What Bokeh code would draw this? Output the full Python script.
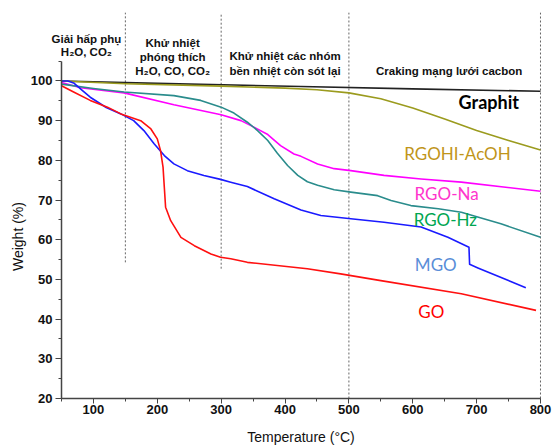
import math
from bokeh.plotting import figure
from bokeh.models import Range1d, FixedTicker, Label
from bokeh.core.properties import value
from bokeh.embed import file_html
from bokeh.resources import INLINE

# ---------------- data ----------------
graphit_t = [50, 200, 425, 600, 800]
graphit_w = [100.0, 99.4, 98.6, 98.0, 97.4]

rgohi_t = [50, 150, 300, 400, 450, 500, 550, 600, 650, 700, 750, 800]
rgohi_w = [100.0, 99.3, 98.7, 98.2, 97.8, 97.0, 95.5, 93.2, 90.4, 87.5, 85.0, 82.6]

rgona_t = [50, 80, 148, 226, 300, 331, 352, 373, 393, 414, 425, 451, 477, 503, 555, 613, 676, 800]
rgona_w = [99.6, 98.3, 97.0, 94.0, 91.5, 90.0, 88.3, 86.5, 83.7, 81.6, 81.0, 79.1, 77.9, 77.4, 76.2,
           75.3, 74.5, 72.2]

rgohz_t = [50, 100, 148, 226, 268, 300, 320, 341, 357, 373, 388, 404, 420, 435, 451, 477, 503, 545,
           566, 597, 640, 676, 738, 800]
rgohz_w = [99.2, 98.1, 97.2, 96.3, 95.1, 93.4, 91.9, 89.6, 87.5, 85.0, 81.8, 78.7, 76.2, 74.6, 73.7,
           72.6, 72.0, 71.1, 69.9, 68.6, 67.8, 66.9, 64.0, 60.6]

mgo_t = [50, 60, 69, 82, 95, 120, 143, 163, 179, 195, 211, 226, 247, 273, 299, 315, 341, 383, 425,
         456, 503, 555, 613, 655, 688, 689, 702, 777]
mgo_w = [100.0, 100.0, 99.5, 97.7, 95.9, 93.3, 91.7, 90.0, 87.5, 84.2, 81.2, 79.1, 77.4, 76.2, 75.2,
         74.5, 73.4, 70.3, 67.5, 66.1, 65.3, 64.4, 63.2, 60.6, 58.1, 53.8, 52.9, 47.9]

go_t = [50, 69, 95, 122, 143, 174, 190, 200, 205, 209, 211, 213, 221, 237, 258, 284, 299, 315, 341,
        435, 487, 550, 676, 793]
go_w = [98.8, 97.2, 95.1, 93.4, 91.7, 90.0, 87.9, 85.4, 82.5, 78.3, 73.2, 68.2, 64.8, 60.6, 58.5,
        56.4, 55.6, 55.2, 54.3, 52.7, 51.4, 49.7, 46.4, 42.2]

series_names = ["Graphit", "RGOHI-AcOH", "RGO-Na", "RGO-Hz", "MGO", "GO"]

# stage boundaries (°C) and the stage descriptions
stage_bounds = [150, 300, 500, 800]
stage_lines = [["Giải hấp phụ", "H₂O, CO₂"],
               ["Khử nhiệt", "phóng thích", "H₂O, CO, CO₂"],
               ["Khử nhiệt các nhóm", "bền nhiệt còn sót lại"],
               ["Craking mạng lưới cacbon"]]

x_ticks = [100, 200, 300, 400, 500, 600, 700, 800]
y_ticks = [20, 30, 40, 50, 60, 70, 80, 90, 100]
x_title = "Temperature (°C)"
y_title = "Weight (%)"

# ---------------- layout / style ----------------
curve_colors = ["#222222", "#9B9B1E", "#FF00FF", "#2A8C8C", "#1A1AFF", "#FF1010"]
label_colors = ["#000000", "#C0951A", "#FF33CC", "#00A651", "#5A8ED8", "#FF0000"]
label_pos = [(719, 94.6), (670, 81.6), (653, 71.6), (651, 65.1), (636, 53.8), (629, 42.0)]

stage_x = [89, 224, 400, 657]
stage_y = [[110.6, 107.2], [109.5, 106.0, 102.4], [106.4, 102.6], [102.6]]
bound_bottom = [54.3, 52.7, 20, 20]
bound_top = 117.2

# the frame fills the page; both axes are drawn at fixed data positions inside it
p = figure(width=552, height=448, output_backend="svg", toolbar_location=None,
           x_range=Range1d(-45.5, 818.8), y_range=Range1d(7.4, 118),
           min_border_left=0, min_border_right=0, min_border_top=9, min_border_bottom=0)
p.outline_line_color = None
p.grid.grid_line_color = None
p.background_fill_color = "white"
p.border_fill_color = "white"

# dotted stage boundaries
p.segment(x0=stage_bounds, y0=bound_bottom, x1=stage_bounds, y1=[bound_top] * 4,
          line_color="#666666", line_width=1, line_dash="2 2")

series = [(graphit_t, graphit_w), (rgohi_t, rgohi_w), (rgona_t, rgona_w),
          (rgohz_t, rgohz_w), (mgo_t, mgo_w), (go_t, go_w)]
for (t, w), c in zip(series, curve_colors):
    p.line(t, w, line_color=c, line_width=1.6, line_join="round")

# series labels
for i, name in enumerate(series_names):
    p.text(x=[label_pos[i][0]], y=[label_pos[i][1]], text=[name],
           text_color=label_colors[i], text_font=value("Lato"),
           text_font_size="18px" if i == 0 else "17px",
           text_font_style="bold" if i == 0 else "normal",
           text_align="center", text_baseline="middle")

# stage descriptions
for sx, ys, lines in zip(stage_x, stage_y, stage_lines):
    for yy, line in zip(ys, lines):
        p.add_layout(Label(x=sx, y=yy, text=line, text_color="#111111",
                           text_font="Liberation Sans", text_font_size="11.5px",
                           text_font_style="bold", text_align="center",
                           text_baseline="middle"))

# axis titles
p.add_layout(Label(x=425, y=10.3, text=x_title, text_color="#111111",
                   text_font="Liberation Sans", text_font_size="14px",
                   text_align="center", text_baseline="middle"))
p.add_layout(Label(x=-18.1, y=60.8, text=y_title, text_color="#111111",
                   text_font="Liberation Sans", text_font_size="14px", angle=math.pi / 2,
                   text_align="center", text_baseline="middle"))

# axes
xa = p.xaxis[0]
xa.fixed_location = 20
xa.ticker = FixedTicker(ticks=x_ticks, minor_ticks=list(range(50, 801, 50)))
xa.bounds = (50, 800)
ya = p.yaxis[0]
ya.fixed_location = 50
ya.ticker = FixedTicker(ticks=y_ticks, minor_ticks=list(range(20, 106, 5)))
ya.bounds = (20, 105)
for ax in (xa, ya):
    ax.axis_line_color = "#444444"
    ax.axis_line_width = 1.5
    ax.major_tick_line_color = "#444444"
    ax.minor_tick_line_color = "#444444"
    ax.major_tick_in = 0
    ax.minor_tick_in = 0
    ax.major_label_text_font = "Liberation Sans"
    ax.major_label_text_font_style = "bold"
    ax.major_label_text_font_size = "13px"
    ax.major_label_text_color = "#111111"
xa.major_tick_out = 5
xa.minor_tick_out = 3
ya.major_tick_out = 6
ya.minor_tick_out = 3
xa.major_label_standoff = 2
ya.major_label_standoff = 3

open("out.html", "w").write(file_html(p, INLINE))
